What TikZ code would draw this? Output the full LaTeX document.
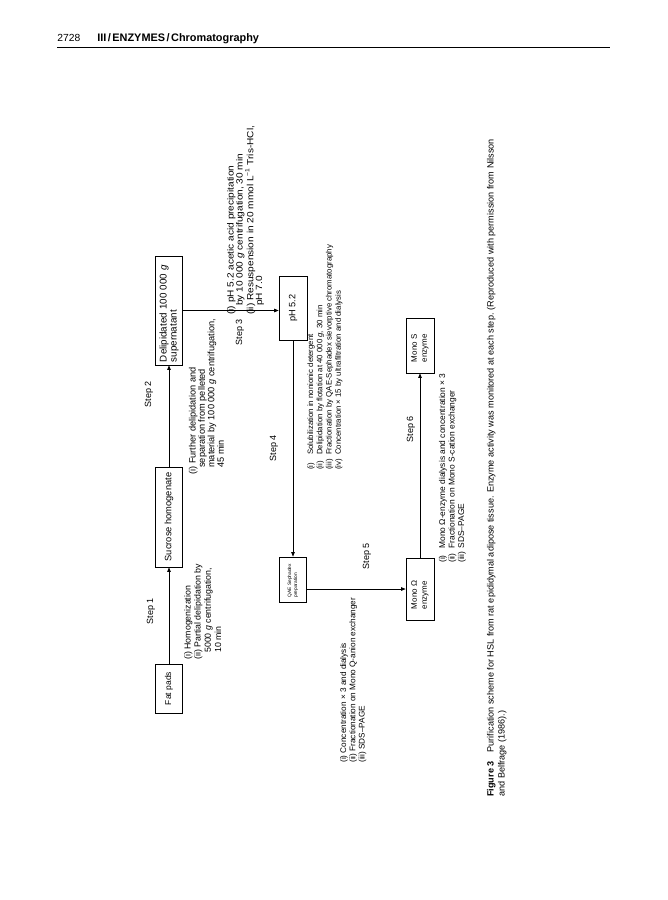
\documentclass[tikz,border=0pt]{standalone}
\usepackage{fontspec}
\setmainfont{Liberation Sans}
\usetikzlibrary{arrows.meta}
\newcommand\fsz[2]{\fontsize{#1}{#2}\selectfont}
\begin{document}
\begin{tikzpicture}[x=1pt,y=-1pt,
  line width=0.65pt,
  box/.style={draw, rotate=90, inner sep=0pt, line width=0.7pt},
  ann/.style={rotate=90, anchor=base west, inner sep=0pt},
  lab/.style={rotate=90, inner sep=0pt, font=\fsz{9}{10}},
  arr/.style={-{Triangle[length=4.5pt,width=3.5pt]}},
]
\fill[white] (0,0) rectangle (668,900);
\useasboundingbox (0,0) rectangle (668,900);

% header
\node[anchor=base west, inner sep=0pt, font=\fsz{10.3}{12}] (pg) at (57,41) {2728};
\node[anchor=base west, inner sep=0pt, font=\fsz{10.9}{12}\bfseries] (hd) at (97,41) {III\hspace{1.5pt}/\hspace{1.5pt}ENZYMES\hspace{1.5pt}/\hspace{1.5pt}Chromatography};
\draw[line width=0.8pt] (57,47) -- (610,47);

% boxes
\node[box, minimum width=49pt, minimum height=27pt, font=\fsz{8.5}{9.5}] (fat) at (169,688.5) {Fat pads};
\node[box, minimum width=100pt, minimum height=27pt, font=\fsz{9.3}{10}] (suc) at (169,517) {Sucrose homogenate};
\node[box, minimum width=109pt, minimum height=27pt, inner xsep=3pt, text width=103pt, align=left, font=\fsz{9.8}{10}] (delip) at (169,310.5) {Delipidated 100~000 \textit{g}\\supernatant};
\node[box, minimum width=64pt, minimum height=28pt, font=\fsz{9.2}{10}] (ph) at (293,308) {pH 5.2};
\node[box, minimum width=45pt, minimum height=27pt, inner xsep=4.5pt, text width=36pt, align=left, font=\fsz{4.8}{6}] (qae) at (293,579.5) {QAE Sephadex\\preparation};
\node[box, minimum width=62pt, minimum height=28pt, inner xsep=11pt, text width=40pt, align=left, font=\fsz{8}{10}] (monoq) at (420,589) {Mono Ω\\enzyme};
\node[box, minimum width=55pt, minimum height=28pt, inner xsep=11pt, text width=33pt, align=left, font=\fsz{8}{10}] (monos) at (420,345.5) {Mono S\\enzyme};

% connectors
\draw[arr] (fat.east) -- (suc.west);
\draw[arr] (suc.east) -- (delip.west);
\draw[arr] (delip.south) -- (delip.south -| ph.north);
\draw[arr] (ph.west) -- (qae.east);
\draw[arr] (qae.south |- monoq.north) -- (monoq.north);
\draw[arr] (monoq.east) -- (monos.west);

% step labels
\node[lab] (s1) at (151,611) {Step 1};
\node[lab] (s2) at (149,394) {Step 2};
\node[lab] (s3) at (240,332) {Step 3};
\node[lab] (s4) at (274,448) {Step 4};
\node[lab] (s5) at (367,556) {Step 5};
\node[lab] (s6) at (411,429) {Step 6};

% annotations
\node[ann, font=\fsz{8.8}{10.2}] (a1) at (190.5,660) {\begin{tabular}[t]{@{}l@{}}
(i) Homogenization\\
(ii) Partial delipidation by\\
\hspace*{7pt}5000 \textit{g} centrifugation,\\
\hspace*{7pt}10 min\end{tabular}};

\node[ann, font=\fsz{9.2}{9.2}] (a2) at (195.5,475) {\begin{tabular}[t]{@{}l@{}}
(i) Further delipidation and\\
\hspace*{7pt}separation from pelleted\\
\hspace*{7pt}material by 100~000 \textit{g} centrifugation,\\
\hspace*{7pt}45 min\end{tabular}};

\node[ann, xscale=1.12, font=\fsz{9}{8.8}] (a3) at (233.5,315) {\begin{tabular}[t]{@{}l@{}}
(i) pH 5.2 acetic acid precipitation\\
\hspace*{8pt}by 10~000 \textit{g} centrifugation, 30 min\\
(ii) Resuspension in 20 mmol L\textsuperscript{−1} Tris-HCl,\\
\hspace*{8pt}pH 7.0\end{tabular}};

\node[ann, font=\fsz{7.8}{9.3}] (a4) at (313,470) {\begin{tabular}[t]{@{}l@{\hspace{4pt}}l@{}}
(i) & Solubilization in nonionic detergent\\
(ii) & Delipidation by flotation at 40~000 \textit{g}, 30 min\\
(iii) & Fractionation by QAE-Sephadex sievorptive chromatography\\
(iv) & Concentration × 15 by ultrafiltration and dialysis\end{tabular}};

\node[ann, font=\fsz{8.2}{9.3}] (a5) at (346,763) {\begin{tabular}[t]{@{}l@{}}
(i) Concentration × 3 and dialysis\\
(ii) Fractionation on Mono Q-anion exchanger\\
(iii) SDS–PAGE\end{tabular}};

\node[ann, font=\fsz{8.4}{9.5}] (a6) at (445,563) {\begin{tabular}[t]{@{}l@{\hspace{3pt}}l@{}}
(i) & Mono Ω-enzyme dialysis and concentration × 3\\
(ii) & Fractionation on Mono S-cation exchanger\\
(iii) & SDS–PAGE\end{tabular}};

% caption
\node[ann, font=\fsz{9.1}{11}] (cap) at (493.5,797) {\begin{tabular}[t]{@{}l@{}}
\textbf{Figure 3}\quad Purification scheme for HSL from rat epididymal adipose tissue. Enzyme activity was monitored at each step. (Reproduced with permission from Nilsson\\
and Belfrage (1986).)\end{tabular}};
\end{tikzpicture}
\end{document}
